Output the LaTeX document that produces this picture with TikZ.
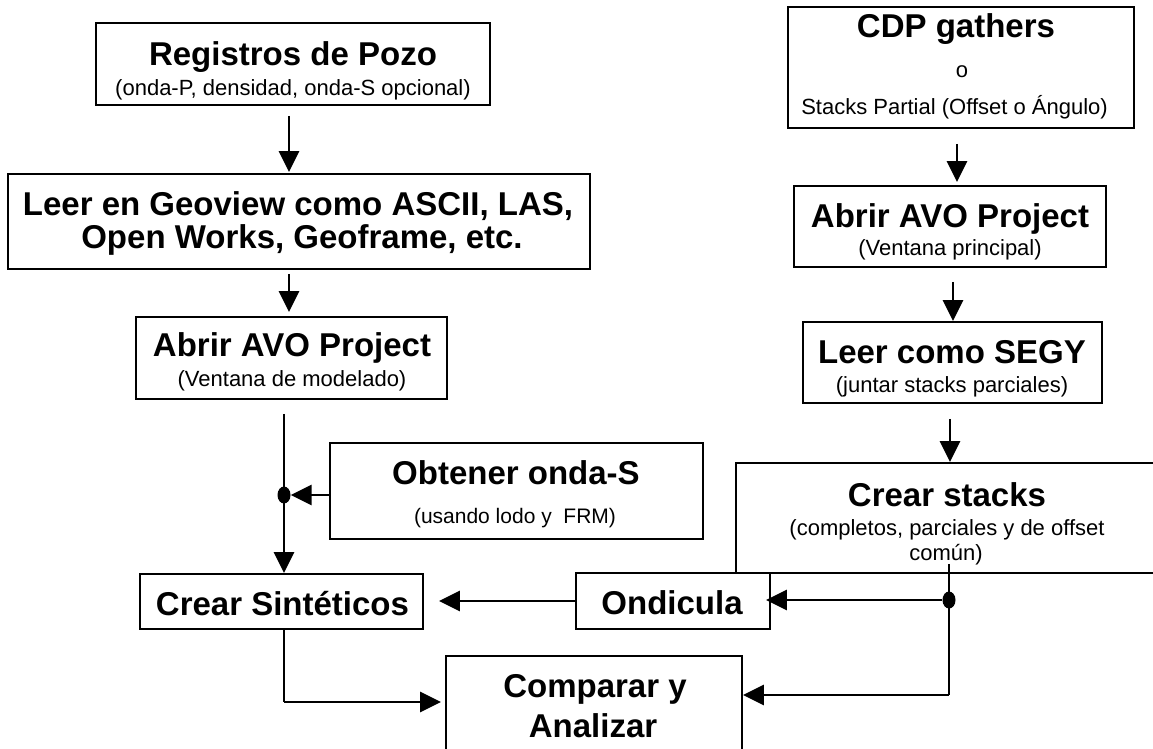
\documentclass[tikz,border=0pt]{standalone}
\usepackage{fontspec}
\setmainfont[Ligatures={NoCommon}]{Liberation Sans}
\usetikzlibrary{arrows.meta,shapes.geometric}
\begin{document}
\begin{tikzpicture}[x=1pt,y=-1pt,
  box/.style={draw, line width=1.9pt, rectangle, inner sep=0pt},
  ttl/.style={anchor=base, inner sep=0pt, font=\fontsize{33}{33}\selectfont\bfseries},
  sub/.style={anchor=base, inner sep=0pt, font=\fontsize{22}{22}\selectfont},
  arr/.style={line width=2.9pt, -{Triangle[length=21pt,width=20pt]}},
  wire/.style={line width=2.4pt},
  thinwire/.style={line width=1.5pt},
  dot/.style={ellipse, fill, inner sep=0pt, minimum width=13pt, minimum height=17pt}
]
\useasboundingbox (0,0) rectangle (1153,748);

% ---- left column: well logs ----
\node[box, minimum width=394pt, minimum height=82pt] (pozo) at (293,64) {};
\node[ttl] (pozoT) at (293,65) {Registros de Pozo};
\node[sub] (pozoS) at (293,95) {(onda-P, densidad, onda-S opcional)};

\node[box, minimum width=582pt, minimum height=95pt] (geo) at (299,221.5) {};
\node[ttl] (geoT1) at (298,215) {Leer en Geoview como ASCII, LAS,};
\node[ttl] (geoT2) at (302,248) {Open Works, Geoframe, etc.};

\node[box, minimum width=311pt, minimum height=82pt] (avo1) at (291.5,358) {};
\node[ttl] (avo1T) at (292,356) {Abrir AVO Project};
\node[sub] (avo1S) at (292,386) {(Ventana de modelado)};

\node[box, minimum width=373pt, minimum height=96pt] (obt) at (516.5,491) {};
\node[ttl] (obtT) at (516,484) {Obtener onda-S};
\node[sub, font=\fontsize{21}{21}\selectfont] (obtS) at (515,523) {(usando lodo y \ FRM)};

\node[box, minimum width=283pt, minimum height=55pt] (sint) at (281.5,601.5) {};
\node[ttl] (sintT) at (282.5,615) {Crear Sintéticos};

\node[box, minimum width=194pt, minimum height=56pt] (ond) at (673,601) {};
\node[ttl] (ondT) at (672,614) {Ondicula};

\node[box, minimum width=296pt, minimum height=114pt] (cmp) at (594,713) {};
\node[ttl] (cmpT1) at (595,697) {Comparar y};
\node[ttl] (cmpT2) at (593,737) {Analizar};

% ---- right column: seismic data ----
\node[box, minimum width=346pt, minimum height=121pt] (cdp) at (961,67.5) {};
\node[ttl] (cdpT) at (956,37) {CDP gathers};
\node[sub] (cdpO) at (962,77) {o};
\node[sub] (cdpS) at (954.5,114) {Stacks Partial (Offset o Ángulo)};

\node[box, minimum width=312pt, minimum height=81pt] (avo2) at (950,226.5) {};
\node[ttl] (avo2T) at (950,227) {Abrir AVO Project};
\node[sub] (avo2S) at (950,255) {(Ventana principal)};

\node[box, minimum width=299pt, minimum height=81pt] (segy) at (952.5,362.5) {};
\node[ttl] (segyT) at (952,363) {Leer como SEGY};
\node[sub] (segyS) at (952,392) {(juntar stacks parciales)};

\node[box, minimum width=434pt, minimum height=110pt] (stk) at (953,518) {};
\node[ttl] (stkT) at (947,506) {Crear stacks};
\node[sub] (stkS1) at (947,535) {(completos, parciales y de offset};
\node[sub] (stkS2) at (946,560) {común)};

% ---- junctions and bends ----
\node[dot] (j1) at (284,495) {};
\node[dot] (j2) at (949,600) {};
\coordinate (c1) at (284,702);
\coordinate (c2) at (949,695);

% ---- connectors, left column ----
\draw[arr] ([xshift=-4pt,yshift=-10pt]pozo.south) -- ([xshift=-4pt,yshift=1pt]pozo.south |- geo.north);
\draw[arr] ([xshift=-10pt,yshift=-4pt]geo.south) -- ([xshift=-10pt,yshift=4pt]geo.south |- avo1.north);
\draw[arr] ([yshift=-14pt]avo1.south -| j1) -- (sint.north -| j1);
\draw[arr] ([yshift=-4pt]obt.west) -- (j1.east);
\draw[thinwire] (sint.south -| c1) -- (c1);
\draw[arr] (c1) -- ([xshift=-4pt]cmp.west |- c1);
\draw[arr] (ond.west) -- ([xshift=15pt]sint.east |- ond.west);

% ---- connectors, right column ----
\draw[arr] ([xshift=-4pt,yshift=-15pt]cdp.south) -- ([xshift=-4pt,yshift=3pt]cdp.south |- avo2.north);
\draw[arr] ([xshift=3pt,yshift=-14pt]avo2.south) -- ([xshift=3pt]avo2.south |- segy.north);
\draw[arr] ([xshift=-2.5pt,yshift=-15pt]segy.south) -- ([xshift=-2.5pt]segy.south |- stk.north);
\draw[wire] ([yshift=10pt]stk.south -| j2) -- (c2);
\draw[arr] (j2) -- ([xshift=-5pt]ond.east |- j2);
\draw[arr] (c2) -- (cmp.east |- c2);
\end{tikzpicture}
\end{document}
